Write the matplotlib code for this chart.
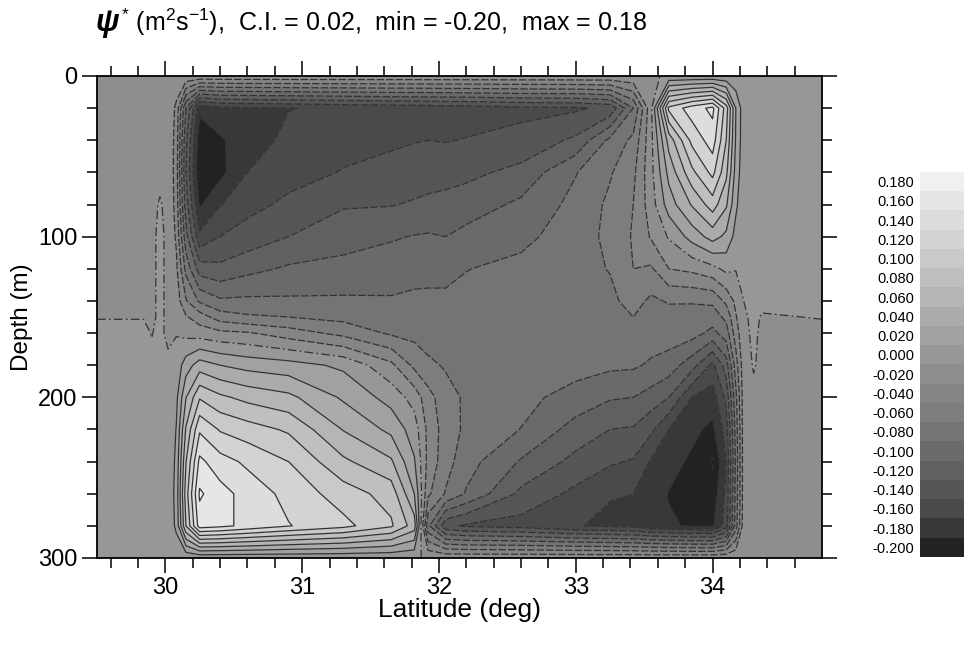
import numpy as np
import matplotlib
matplotlib.use("Agg")
import matplotlib.pyplot as plt
from matplotlib.colors import ListedColormap, BoundaryNorm

plt.rcParams["font.family"] = ["Liberation Sans", "DejaVu Sans"]
plt.rcParams["mathtext.fontset"] = "custom"
plt.rcParams["mathtext.rm"] = "Liberation Sans"
plt.rcParams["mathtext.it"] = "Liberation Sans:italic"
plt.rcParams["mathtext.bf"] = "Liberation Sans:bold"

# ---- data ---------------------------------------------------------------
# grid nodes
lat = [29.5, 29.84, 29.9, 29.96, 30.02, 30.08, 30.15, 30.25, 30.4, 30.6, 30.9,
       31.3, 31.65, 31.82, 31.92, 32.05, 32.2, 32.6, 33.0, 33.25, 33.42, 33.55,
       33.68, 33.85, 34.0, 34.1, 34.17, 34.23, 34.3, 34.36, 34.8]
depth = [0, 20, 40, 60, 80, 100, 120, 140, 150, 160, 180, 200, 220, 240, 260, 280, 300]

# psi * 100 (m2/s), one profile (depth 0..300) per latitude node
psi_x100 = [
    [-0.3, -0.3, -0.3, -0.3, -0.3, -0.3, -0.3, -0.3, -0.05, 0.3, 0.3, 0.3, 0.3, 0.3, 0.3, 0.3, 0.3],  # 29.5
    [-0.3, -0.3, -0.3, -0.3, -0.3, -0.3, -0.3, -0.3, -0.05, 0.3, 0.3, 0.3, 0.3, 0.3, 0.3, 0.3, 0.3],  # 29.84
    [-0.3, -0.3, -0.3, -0.3, -0.3, -0.3, -0.3, -0.3, -0.3, -0.05, 0.3, 0.3, 0.3, 0.3, 0.3, 0.3, 0.3],  # 29.9
    [-0.3, -0.3, -0.3, -0.3, 0.1, 0.3, 0.3, 0.3, 0.3, 0.3, 0.3, 0.3, 0.3, 0.3, 0.3, 0.3, 0.3],        # 29.96
    [-0.3, -0.3, -0.3, -0.3, -0.3, -0.3, -0.3, -0.3, -0.3, -0.3, 0.3, 0.3, 0.3, 0.3, 0.3, 0.3, 0.3],  # 30.02
    [-0.3, -2.5, -2.9, -3.0, -2.8, -2.3, -1.6, -0.9, -0.4, -0.1, 0.8, 1.5, 2.1, 2.5, 2.8, 2.5, 0.3],  # 30.08
    [-0.3, -10, -11.5, -12, -11, -9.3, -6.6, -3.8, -1.8, -0.6, 3, 5.9, 8.2, 9.9, 11, 10, 0.3],         # 30.15
    [-0.3, -17.5, -19.3, -19.8, -18.3, -15.5, -11, -6.3, -3, -1, 5, 9.8, 13.7, 16.5, 18.3, 17, 0.3],   # 30.25
    [-0.3, -16.5, -18.3, -18.6, -16.1, -14, -11.5, -7.7, -5, -1.5, 4, 8.4, 11.8, 14.8, 16.8, 16.5, 0.3],  # 30.4
    [-0.3, -16.3, -16.8, -16, -14.6, -13.2, -10.6, -7.6, -5.7, -1.8, 3.3, 7.4, 10.9, 13.6, 15.2, 15.5, 0.3],  # 30.6
    [-0.3, -16.05, -15.6, -14.7, -13.6, -12, -9.7, -7.7, -6, -3, 2.8, 6.5, 9.7, 12, 13.4, 14.1, 0.3],  # 30.9
    [-0.3, -15.7, -14.6, -13.9, -12.2, -10.8, -9.4, -7.7, -6.6, -4.6, 1.6, 3.7, 5.9, 8.4, 11, 12.6, 0.3],  # 31.3
    [-0.3, -15.4, -14.4, -13.2, -12.1, -10.2, -9.0, -7.8, -7, -6.3, -1.5, 1.2, 3.5, 6.3, 9.2, 10.3, 0.3],  # 31.65
    [-0.3, -15.3, -14.1, -13, -11.8, -9.9, -8.7, -7.6, -7.1, -6.6, -4.5, -0.8, 1, 2.2, 4, 7, 0.3],     # 31.82
    [-0.3, -15.2, -14, -12.8, -11.6, -9.8, -8.6, -7.6, -7.3, -6.9, -5.6, -3.2, -2.5, -2.6, -3.6, -7.5, -0.3],  # 31.92
    [-0.3, -15.1, -14.1, -12.7, -11.4, -10, -8.6, -7.6, -7.3, -7.1, -6.2, -5.3, -5, -5.2, -6.2, -13.5, -0.3],  # 32.05
    [-0.3, -15, -13.9, -12.5, -11, -9.4, -8.05, -7.5, -7.2, -7, -6.5, -6.3, -6.4, -7.2, -8.2, -14.3, -0.3],  # 32.2
    [-0.3, -14.5, -13.4, -11.4, -9.6, -8.5, -7.5, -7, -6.9, -6.9, -7.1, -7.4, -8.05, -10.2, -12.5, -14.8, -0.3],  # 32.6
    [-0.3, -14.3, -11.6, -8.1, -7.4, -7, -6.7, -6.5, -6.5, -6.6, -7.2, -8.8, -10.8, -12.6, -14.5, -15.9, -0.3],  # 33.0
    [-0.3, -13.5, -7.5, -6.2, -5.6, -5.5, -5.9, -6.5, -6.7, -6.9, -7.6, -9.8, -12, -13.7, -15.9, -16.3, -0.3],  # 33.25
    [-0.3, -8, -5.5, -4.5, -4, -3.8, -4, -5.2, -6, -6.6, -7.7, -10, -12.2, -14.2, -16, -16.6, -0.3],    # 33.42
    [-0.3, -0.5, -0.6, -0.6, -1, -1.8, -4.3, -6.4, -6.6, -7, -8.3, -10.8, -13.6, -16.2, -17.2, -17.4, -0.3],  # 33.55
    [0.3, 12.5, 6.8, 4.6, 3, 0.2, -2, -5.8, -6.8, -7, -8.9, -12, -16, -17.2, -18.1, -17.8, -0.3],     # 33.68
    [0.3, 15, 12.6, 9.5, 6.2, 2.8, -1.5, -5.8, -6.9, -7.2, -11.2, -16, -17.5, -18.4, -18.8, -18.2, -0.3],  # 33.85
    [0.3, 16.5, 15, 12.6, 9, 4.8, -0.6, -5.6, -7, -8.6, -14.5, -17, -18.5, -20.2, -19.3, -18.3, -0.3],  # 34.0
    [0.3, 11, 10, 8.5, 6.3, 3.5, 0.5, -3.5, -5.5, -7, -11, -13.5, -15, -16, -15.5, -15, -0.3],        # 34.1
    [0.3, 4, 3.8, 3.2, 2.4, 1.3, 0.1, -1.5, -2.2, -3, -5, -6.5, -7.2, -7.5, -7.3, -7, -0.3],          # 34.17
    [0.3, 0.6, 0.6, 0.5, 0.4, 0.3, 0.2, 0.02, -0.2, -0.4, -0.6, -0.7, -0.7, -0.7, -0.7, -0.6, -0.3],  # 34.23
    [0.3, 0.3, 0.3, 0.3, 0.3, 0.3, 0.3, 0.3, 0.3, 0.3, 0.1, -0.3, -0.3, -0.3, -0.3, -0.3, -0.3],      # 34.3
    [0.3, 0.3, 0.3, 0.3, 0.3, 0.3, 0.3, 0.3, -0.1, -0.3, -0.3, -0.3, -0.3, -0.3, -0.3, -0.3, -0.3],   # 34.36
    [0.3, 0.3, 0.3, 0.3, 0.3, 0.3, 0.3, 0.3, 0.05, -0.3, -0.3, -0.3, -0.3, -0.3, -0.3, -0.3, -0.3],   # 34.8
]

# label of each colour box (lower bound of the band)
box_labels = [-0.20, -0.18, -0.16, -0.14, -0.12, -0.10, -0.08, -0.06, -0.04, -0.02,
              0.00, 0.02, 0.04, 0.06, 0.08, 0.10, 0.12, 0.14, 0.16, 0.18]
# grey level of each box, plus the one used below -0.20
box_grey = [34, 56, 74, 86, 96, 106, 116, 125, 133, 142,
            151, 161, 171, 181, 191, 201, 211, 221, 230, 240]
below_grey = 16

# ---- build -------------------------------------------------------------
psi = np.array(psi_x100).T / 100.0
greys = [below_grey] + box_grey
cmap = ListedColormap([(g / 255, g / 255, g / 255) for g in greys])
bounds = [-1.0] + box_labels + [1.0]
norm = BoundaryNorm(bounds, cmap.N)

fig = plt.figure(figsize=(9.68, 6.5), dpi=100)
ax = fig.add_axes([97 / 968, 1 - 558 / 650, 725 / 968, 482 / 650])

ax.contourf(lat, depth, psi, levels=bounds, cmap=cmap, norm=norm)

clev = np.round(np.arange(-0.20, 0.181, 0.02), 2)
line_col = "#333333"
cs_neg = ax.contour(lat, depth, psi, levels=clev[clev < -0.001], colors=line_col, linewidths=0.9)
cs_neg.set_linestyle((0, (6.0, 1.6)))
cs_zero = ax.contour(lat, depth, psi, levels=[0.0], colors=line_col, linewidths=0.9)
cs_zero.set_linestyle((0, (7, 2.5, 1.5, 2.5)))
cs_pos = ax.contour(lat, depth, psi, levels=clev[clev > 0.001], colors=line_col, linewidths=0.9)

ax.set_xlim(29.5, 34.8)
ax.set_ylim(300, 0)
ax.set_xticks([30, 31, 32, 33, 34])
ax.set_xticks(np.arange(29.6, 34.8, 0.2), minor=True)
ax.set_yticks([0, 100, 200, 300])
ax.set_yticks(np.arange(0, 301, 20), minor=True)
ax.tick_params(which="both", direction="out", top=True, right=True, width=1.1,
               labelsize=17, pad=3)
ax.tick_params(which="major", length=11)
ax.tick_params(which="minor", length=7)
for s in ax.spines.values():
    s.set_linewidth(1.3)

ax.set_xlabel("Latitude (deg)", fontsize=19)
ax.set_ylabel("Depth (m)", fontsize=17.5)
ax.xaxis.set_label_coords(0.5, -0.083)
ax.yaxis.set_label_coords(-0.088, 0.5)

# title
t1 = fig.text(96 / 968, 1 - 31 / 650, "\u03c8", fontsize=22, fontweight="bold",
              fontstyle="italic", va="baseline", ha="left")
fig.canvas.draw()
bb = t1.get_window_extent()
fig.text(bb.x1 / 968 + 0.001, 1 - 31 / 650,
         r"$^{*}$ (m$^{2}$s$^{-1}$),  C.I. = 0.02,  min = -0.20,  max = 0.18",
         fontsize=18, va="baseline", ha="left")

# colour bar
cax = fig.add_axes([920 / 968, 1 - 557 / 650, 44 / 968, 385 / 650])
n = len(box_labels)
cax.imshow(np.arange(1, n + 1)[::-1].reshape(-1, 1), cmap=cmap, norm=None,
           vmin=-0.5, vmax=n + 0.5, aspect="auto", extent=(0, 1, 0, n),
           interpolation="nearest")
cax.set_xlim(0, 1)
cax.set_ylim(0, n)
cax.set_xticks([])
cax.set_yticks(np.arange(n) + 0.5)
cax.set_yticklabels(["%.3f" % v for v in box_labels], fontsize=10.5)
cax.tick_params(axis="y", length=0, pad=4)
for s in cax.spines.values():
    s.set_visible(False)

fig.savefig("out.png", dpi=100)
